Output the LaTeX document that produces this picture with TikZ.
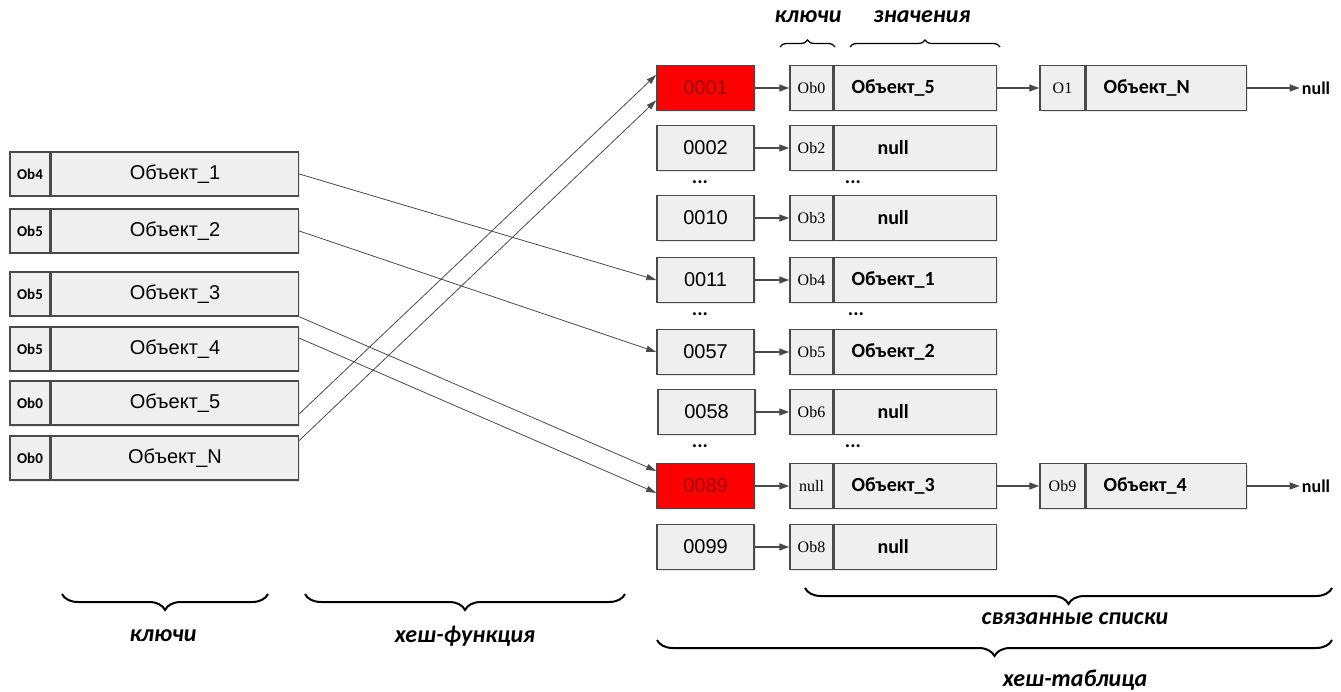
\documentclass[tikz,border=0pt]{standalone}
\usepackage{fontspec}
\setmainfont{Liberation Sans}
\newfontfamily\calfont{Carlito}
\newfontfamily\keyfont{Liberation Serif}
\usetikzlibrary{positioning,arrows.meta,shadows,decorations.pathreplacing}
\definecolor{boxgray}{HTML}{EFEFEF}
\definecolor{linegray}{HTML}{4A4A4A}
\definecolor{darkred}{HTML}{9A0000}
\tikzstyle{cell}=[shape=rectangle, draw=linegray, line width=1.5pt, fill=boxgray, inner sep=0pt, drop shadow={shadow xshift=1.5pt,shadow yshift=-1.5pt,opacity=0.2}]
\tikzstyle{okey}=[cell, minimum width=40pt, minimum height=44pt, font=\calfont\bfseries\fontsize{15}{17}\selectfont]
\tikzstyle{oval}=[cell, minimum width=247pt, minimum height=44pt, font=\fontsize{20}{24}\selectfont]
\tikzstyle{hbox}=[cell, minimum width=97pt, minimum height=45pt, font=\fontsize{20}{24}\selectfont]
\tikzstyle{hred}=[hbox, fill=red, text=darkred]
\tikzstyle{lkey}=[cell, minimum width=43pt, minimum height=45pt, font=\keyfont\fontsize{16}{18}\selectfont]
\tikzstyle{lval}=[cell, minimum width=162pt, text width=128pt, inner xsep=17pt, minimum height=45pt, align=left, font=\calfont\bfseries\fontsize{20}{24}\selectfont]
\tikzstyle{nul}=[font=\calfont\bfseries\fontsize{18}{21}\selectfont, inner sep=2pt]
\tikzstyle{dts}=[font=\calfont\bfseries\fontsize{20}{22}\selectfont, inner sep=0pt]
\tikzstyle{lbl}=[font=\calfont\bfseries\itshape\fontsize{24}{28}\selectfont, inner sep=0pt]
\tikzstyle{hsh}=[draw=linegray, line width=0.8pt, -{Triangle[length=10pt,width=6pt]}]
\tikzstyle{nxt}=[draw=linegray, line width=1.3pt, -{Triangle[length=10pt,width=7pt]}]
\tikzstyle{brc}=[draw=black, line width=2pt, decorate]

\begin{document}
\begin{tikzpicture}[x=1pt,y=-1pt]
\useasboundingbox (0,0) rectangle (1341,692);

% keys + objects
\node (k1) [okey] at (30,174) {Ob4};
\node (v1) [oval, right=0pt of k1] {Объект\_1};
\node (k2) [okey] at (30,231) {Ob5};
\node (v2) [oval, right=0pt of k2] {Объект\_2};
\node (k3) [okey] at (30,294) {Ob5};
\node (v3) [oval, right=0pt of k3] {Объект\_3};
\node (k4) [okey] at (30,349) {Ob5};
\node (v4) [oval, right=0pt of k4] {Объект\_4};
\node (k5) [okey] at (30,403) {Ob0};
\node (v5) [oval, right=0pt of k5] {Объект\_5};
\node (k6) [okey] at (30,458) {Ob0};
\node (v6) [oval, right=0pt of k6] {Объект\_N};

% hash table
\node (h1) [hred] at (705.5,88) {0001};
\node (h2) [hbox] at (705.5,148) {0002};
\node (h3) [hbox] at (705.5,218) {0010};
\node (h4) [hbox] at (705.5,280) {0011};
\node (h5) [hbox] at (705.5,352) {0057};
\node (h6) [hbox] at (706.5,412) {0058};
\node (h7) [hred] at (705.5,486) {0089};
\node (h8) [hbox] at (705.5,547) {0099};

\node (hd1) [dts] at (700,182) {...};
\node (hd2) [dts] at (700,314) {...};
\node (hd3) [dts] at (700,446) {...};
\node (ld1) [dts] at (853,182) {...};
\node (ld2) [dts] at (856,314) {...};
\node (ld3) [dts] at (853,446) {...};

% lists
\node (a1) [lkey] at (811.5,88) {Ob0};
\node (b1) [lval, right=0pt of a1] {Объект\_5};
\node (a2) [lkey] at (811.5,148) {Ob2};
\node (b2) [lval, right=0pt of a2] {\hspace*{26pt}null};
\node (a3) [lkey] at (811.5,218) {Ob3};
\node (b3) [lval, right=0pt of a3] {\hspace*{26pt}null};
\node (a4) [lkey] at (811.5,280) {Ob4};
\node (b4) [lval, right=0pt of a4] {Объект\_1};
\node (a5) [lkey] at (811.5,352) {Ob5};
\node (b5) [lval, right=0pt of a5] {Объект\_2};
\node (a6) [lkey] at (811.5,412) {Ob6};
\node (b6) [lval, right=0pt of a6] {\hspace*{26pt}null};
\node (a7) [lkey] at (811.5,486) {null};
\node (b7) [lval, right=0pt of a7] {Объект\_3};
\node (a8) [lkey] at (811.5,547) {Ob8};
\node (b8) [lval, right=0pt of a8] {\hspace*{26pt}null};

\node (c1) [lkey, minimum width=45pt] at (1062.5,88) {O1};
\node (d1) [lval, minimum width=160pt, text width=126pt, right=0pt of c1] {Объект\_N};
\node (n1) [nul] at (1316,88) {null};
\node (c7) [lkey, minimum width=45pt] at (1062.5,486) {Ob9};
\node (d7) [lval, minimum width=160pt, text width=126pt, right=0pt of c7] {Объект\_4};
\node (n7) [nul] at (1316,486) {null};

% hash function
\draw[hsh] (v1.east) -- (h4.west);
\draw[hsh] (v2.east) -- (h5.west);
\draw[hsh] (v3.south east) -- (h7.163);
\draw[hsh] (v4.5) -- (h7.188);
\draw[hsh] (v5.355) -- (h1.165);
\draw[hsh] (v6.8) -- (h1.194);

\foreach \i in {1,...,8}
  \draw[nxt] (h\i.east) -- (a\i.west);
\draw[nxt] (b1.east) -- (c1.west);
\draw[nxt] (d1.east) -- (n1.west);
\draw[nxt] (b7.east) -- (c7.west);
\draw[nxt] (d7.east) -- (n7.west);

% braces
\draw[brc, line width=1.3pt, decoration={brace,amplitude=7pt}] (780,47) -- (835,47);
\draw[brc, line width=1.3pt, decoration={brace,amplitude=7pt}] (850,47) -- (1000,47);
\node (tk) [lbl] at (808,17) {ключи};
\node (tv) [lbl] at (922,17) {значения};

\draw[brc, decoration={brace,mirror,amplitude=16pt}] (62,594) -- (268,594);
\draw[brc, decoration={brace,mirror,amplitude=16pt}] (305,594) -- (625,594);
\draw[brc, decoration={brace,mirror,amplitude=16pt}] (805,588) -- (1332,588);
\draw[brc, decoration={brace,mirror,amplitude=16pt}] (657,640) -- (1332,640);
\node (bk) [lbl] at (163,636) {ключи};
\node (bh) [lbl] at (465,636) {хеш-функция};
\node (bs) [lbl] at (1075,619) {связанные списки};
\node (bt) [lbl] at (1075,680) {хеш-таблица};
\end{tikzpicture}
\end{document}
